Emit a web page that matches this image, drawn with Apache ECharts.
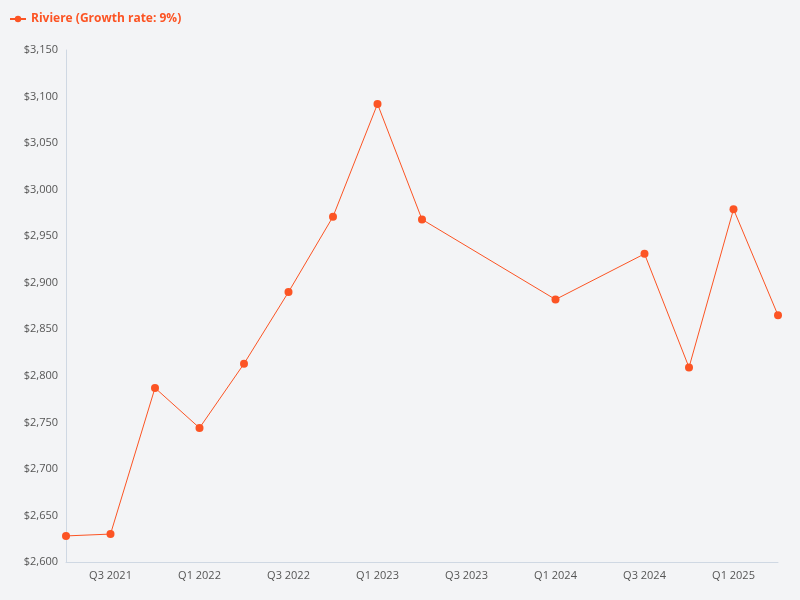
<!DOCTYPE html>
<html><head><meta charset="utf-8">
<script src="https://cdn.jsdelivr.net/npm/echarts@6/dist/echarts.min.js"></script>
<style>html,body{margin:0;background:#f3f4f6}#c{width:800px;height:600px}</style>
</head><body><div id="c"></div>
<script>
const categories = ["Q2 2021","Q3 2021","Q4 2021","Q1 2022","Q2 2022","Q3 2022","Q4 2022","Q1 2023","Q2 2023","Q3 2023","Q4 2023","Q1 2024","Q2 2024","Q3 2024","Q4 2024","Q1 2025","Q2 2025"];
const values = [2628,2630,2787,2744,2813,2890,2971,3092,2968,null,null,2882,null,2931,2809,2979,2865];
const seriesName = "Riviere (Growth rate: 9%)";
const color = "#fc5424";
const chart = echarts.init(document.getElementById('c'));
chart.setOption({
  backgroundColor: "#f3f4f6",
  legend: {left: 4, top: 8, itemWidth: 16, itemHeight: 8,
    textStyle: {color: color, fontWeight: "bold", fontSize: 12, fontFamily: "Open Sans"}},
  grid: {left: 66, right: 22, top: 50, bottom: 38},
  xAxis: {type: "category", data: categories, boundaryGap: false,
    axisLine: {lineStyle: {color: "#cfd8e3"}}, axisTick: {show: false},
    axisLabel: {color: "#555", fontSize: 11, fontFamily: "Open Sans", interval: (i) => i % 2 === 1}},
  yAxis: {type: "value", min: 2600, max: 3150, interval: 50,
    axisLine: {show: true, lineStyle: {color: "#cfd8e3"}}, splitLine: {show: false},
    axisLabel: {color: "#555", fontSize: 11, fontFamily: "Open Sans",
      formatter: v => "$" + v.toLocaleString("en-US")}},
  series: [{name: seriesName, type: "line", data: values, connectNulls: true,
    symbol: "circle", symbolSize: 8, itemStyle: {color: color},
    lineStyle: {width: 1, color: color}}]
});
</script></body></html>
